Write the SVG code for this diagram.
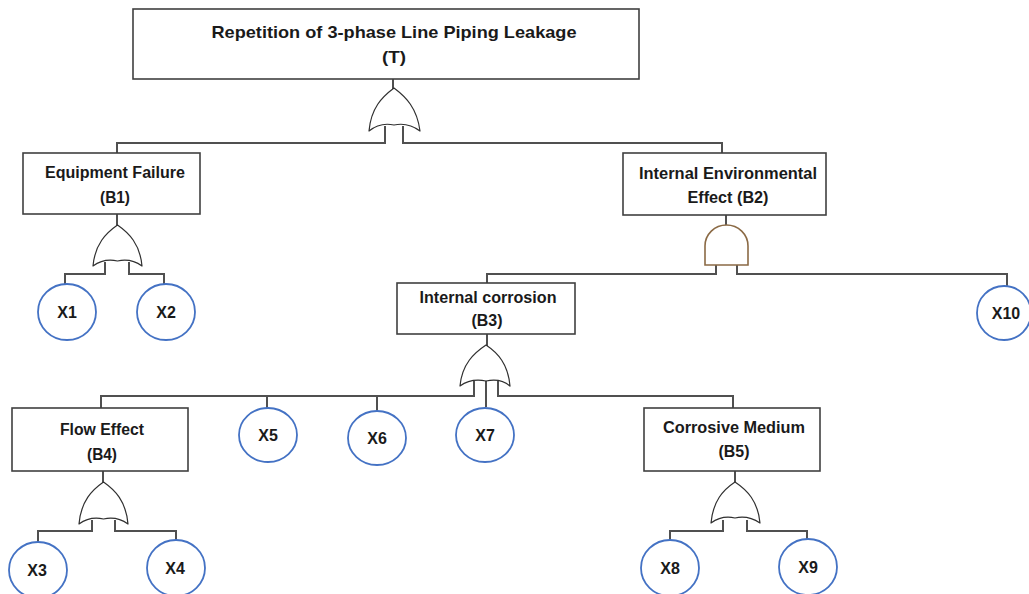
<svg xmlns="http://www.w3.org/2000/svg" width="1029" height="594" viewBox="0 0 1029 594">
<defs>
<style>
.box{fill:#fff;stroke:#404040;stroke-width:1.6}
.ev{fill:#fff;stroke:#4472C4;stroke-width:1.8}
.or{fill:#fff;stroke:#303030;stroke-width:1.2;stroke-linejoin:round}
.and{fill:#fff;stroke:#8B6A45;stroke-width:1.6}
.con{fill:none;stroke:#505050;stroke-width:2}
.t{font-family:"Liberation Sans",Arial,sans-serif;font-weight:bold;font-size:16px;fill:#1a1a1a;text-anchor:middle}
.tt{font-size:17px}
.x{font-size:16px}
</style>
</defs>
<rect width="1029" height="594" fill="#fff"/>
<g id="connectors">
<path class="con" d="M393 79V89M385 126V143H117V153M403 126V143H722V153"/>
<path class="con" d="M117 214V226M105 262V274H65V284M129 262V274H164V284"/>
<path class="con" d="M726 215V226M716 265V274H487V284M737 265V274H1007V286"/>
<path class="con" d="M487 334V346M474 381V396H101V408M498 381V396H733V408M486 380V407M267 396V408M377 396V411"/>
<path class="con" d="M103 471V483M92 520V531H38V542M115 520V531H176V541"/>
<path class="con" d="M735 471V483M723 520V531H670V541M747 520V531H807V540"/>
</g>
<g id="gate-T">
<path class="or" d="M394 88C382 97 371 108 369 131Q380 122 394 125Q408 122 420 131C417 108 406 97 394 88Z"/>
</g>
<g id="gate-B1">
<path class="or" d="M117.5 225C106 233 95 244 93 266Q104 258 117.5 261Q131 258 142 266C140 244 129 233 117.5 225Z"/>
</g>
<g id="gate-B2">
<path class="and" d="M705 265V246A21.5 21 0 0 1 748 246V265Z"/>
</g>
<g id="gate-B3">
<path class="or" d="M486 345C474 353 462 364 460 386Q471 378 486 381Q501 378 510 386C508 364 498 353 486 345Z"/>
</g>
<g id="gate-B4">
<path class="or" d="M103.5 482C92 490 81 501 79 524Q90 516 103.5 519Q117 516 128 524C126 501 115 490 103.5 482Z"/>
</g>
<g id="gate-B5">
<path class="or" d="M735 482C723 490 713 501 711 523Q722 515 735 518Q748 515 760 523C758 501 747 490 735 482Z"/>
</g>
<g id="T">
<rect class="box" x="133" y="9" width="506" height="70"/>
<text class="t tt" x="394" y="38" textLength="365" lengthAdjust="spacingAndGlyphs">Repetition of 3-phase Line Piping Leakage</text>
<text class="t tt" x="394" y="63" textLength="24" lengthAdjust="spacingAndGlyphs">(T)</text>
</g>
<g id="B1">
<rect class="box" x="23" y="153" width="177" height="61"/>
<text class="t" x="115" y="178" textLength="140" lengthAdjust="spacingAndGlyphs">Equipment Failure</text>
<text class="t" x="115" y="203" textLength="30" lengthAdjust="spacingAndGlyphs">(B1)</text>
</g>
<g id="B2">
<rect class="box" x="623" y="153" width="203" height="62"/>
<text class="t" x="728" y="179" textLength="178" lengthAdjust="spacingAndGlyphs">Internal Environmental</text>
<text class="t" x="728" y="203" textLength="81" lengthAdjust="spacingAndGlyphs">Effect (B2)</text>
</g>
<g id="B3">
<rect class="box" x="397" y="283" width="178" height="51"/>
<text class="t" x="488" y="303" textLength="137" lengthAdjust="spacingAndGlyphs">Internal corrosion</text>
<text class="t" x="487" y="326" textLength="31" lengthAdjust="spacingAndGlyphs">(B3)</text>
</g>
<g id="B4">
<rect class="box" x="12" y="408" width="176" height="63"/>
<text class="t" x="102" y="435" textLength="84" lengthAdjust="spacingAndGlyphs">Flow Effect</text>
<text class="t" x="102" y="460" textLength="30" lengthAdjust="spacingAndGlyphs">(B4)</text>
</g>
<g id="B5">
<rect class="box" x="644" y="408" width="176" height="63"/>
<text class="t" x="734" y="433" textLength="142" lengthAdjust="spacingAndGlyphs">Corrosive Medium</text>
<text class="t" x="734" y="457" textLength="31" lengthAdjust="spacingAndGlyphs">(B5)</text>
</g>
<g id="X1"><ellipse class="ev" cx="67" cy="312" rx="29" ry="28"/><text class="t x" x="67" y="318">X1</text></g>
<g id="X2"><ellipse class="ev" cx="166" cy="312" rx="29" ry="28"/><text class="t x" x="166" y="318">X2</text></g>
<g id="X10"><ellipse class="ev" cx="1004" cy="313" rx="27" ry="27"/><text class="t x" x="1006" y="319">X10</text></g>
<g id="X5"><ellipse class="ev" cx="268" cy="435" rx="29" ry="27"/><text class="t x" x="268" y="441">X5</text></g>
<g id="X6"><ellipse class="ev" cx="377" cy="438" rx="29" ry="27"/><text class="t x" x="377" y="444">X6</text></g>
<g id="X7"><ellipse class="ev" cx="485" cy="435" rx="29" ry="27"/><text class="t x" x="485" y="441">X7</text></g>
<g id="X3"><ellipse class="ev" cx="38" cy="570" rx="29" ry="28"/><text class="t x" x="37" y="576">X3</text></g>
<g id="X4"><ellipse class="ev" cx="176" cy="568" rx="29" ry="28"/><text class="t x" x="175" y="574">X4</text></g>
<g id="X8"><ellipse class="ev" cx="670" cy="568" rx="29" ry="28"/><text class="t x" x="670" y="574">X8</text></g>
<g id="X9"><ellipse class="ev" cx="808" cy="567" rx="29" ry="28"/><text class="t x" x="808" y="573">X9</text></g>
</svg>
